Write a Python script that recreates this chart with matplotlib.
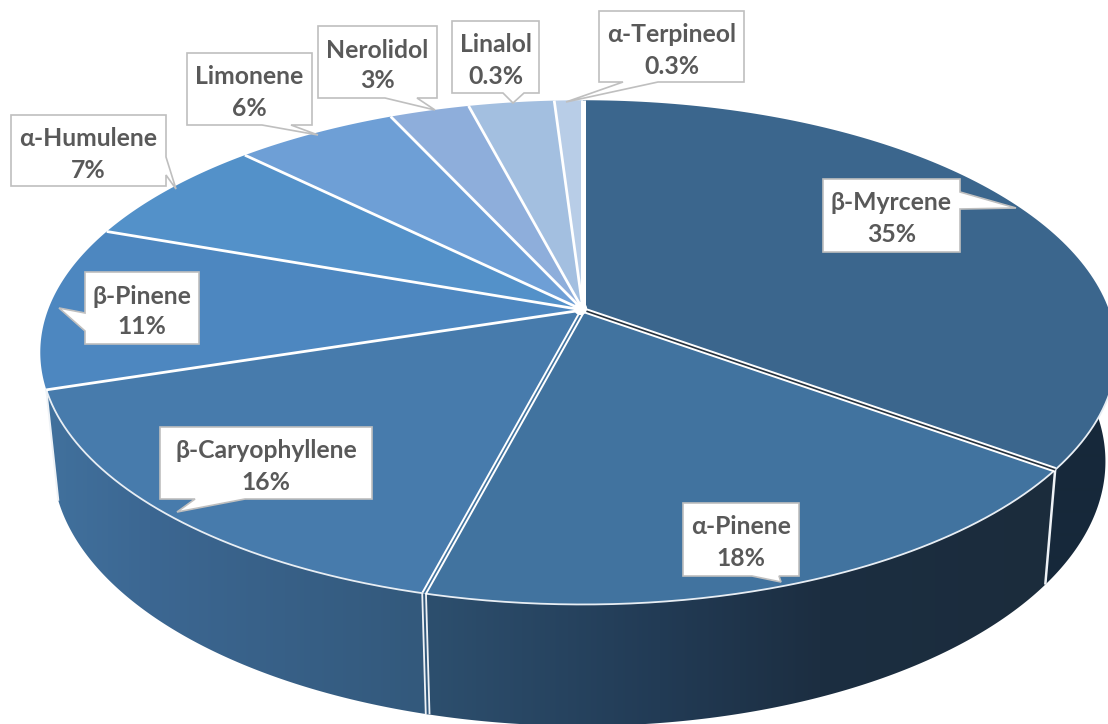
import numpy as np
import matplotlib
matplotlib.use('Agg')
import matplotlib.pyplot as plt
from matplotlib.colors import to_rgb
from matplotlib.patches import Polygon

# ---------- data ----------
names = ['β-Myrcene', 'α-Pinene', 'β-Caryophyllene', 'β-Pinene', 'α-Humulene',
         'Limonene', 'Nerolidol', 'Linalol', 'α-Terpineol']
label_values = ['35%', '18%', '16%', '11%', '7%', '6%', '3%', '0.3%', '0.3%']
# slice sizes as they are drawn in the picture (not the same as the labels)
drawn_shares = [35, 19, 16, 10.5, 7, 5.7, 2.8, 3, 1]
top_colors = ['#3b668d', '#41739f', '#477bac', '#4d87c0', '#5391c9',
              '#6e9fd6', '#8eaedb', '#a3bfe0', '#b8cde7']

# callouts: box x0, y0, x1, y1, side of tail, base a, base b, tip
callouts = [
    (823, 179, 960, 252, 'right', (960, 192), (960, 209), (1016, 208)),
    (683, 503, 799, 576, 'bottom', (779, 576), (752, 576), (781, 582)),
    (160, 427, 372, 499, 'bottom', (245, 499), (195, 499), (177, 512)),
    (85, 272, 199, 344, 'left', (85, 331), (85, 313), (59, 308)),
    (11, 115, 166, 186, 'right', (166, 157), (166, 175), (176, 189)),
    (187, 53, 312, 125, 'bottom', (291, 125), (262, 125), (318, 135)),
    (318, 26, 437, 98, 'bottom', (417, 98), (385, 98), (435, 110)),
    (452, 21, 539, 93, 'bottom', (524, 93), (503, 93), (513, 103)),
    (599, 11, 744, 82, 'bottom', (658, 82), (623, 82), (566, 102)),
]

# wall colours along x, one ramp per slice that shows a wall
wall_ramps = {
    0: ([1040, 1108], ['#17293a', '#16283a']),
    1: ([430, 660, 820, 1050], ['#2d4f6e', '#223b55', '#1c2e41', '#1b2c3c']),
    2: ([45, 150, 420], ['#41719d', '#3c6792', '#33597c']),
}

plt.rcParams['font.family'] = ['Lato', 'Open Sans', 'DejaVu Sans']


# ---------- projection of the tilted disc ----------
def top_face(theta):
    u, v = np.sin(theta), np.cos(theta)
    d = 1 + 0.168 * v
    a = np.where(u < 0, 535, 526)
    return 583 + a * u / d, 310 - 245 * v / d


def bottom_face(theta):
    u, v = np.sin(theta), np.cos(theta)
    d = 1 + 0.168 * v
    a = np.where(u < 0, 523, 515)
    return 583 + a * u / d, 417 - 257 * v / d


fig = plt.figure(figsize=(11.08, 7.24), dpi=100)
ax = fig.add_axes([0, 0, 1, 1])

edges = 2 * np.pi * np.cumsum([0] + drawn_shares) / sum(drawn_shares)

# ---------- side wall ----------
wall_start = 2 * np.pi * 0.25
for i, (xs, cols) in wall_ramps.items():
    th = np.linspace(max(edges[i], wall_start), edges[i + 1], 200)
    tx, ty = top_face(th)
    bx, by = bottom_face(th[::-1])
    shape = Polygon(np.c_[np.r_[tx, bx], np.r_[ty, by]], closed=True,
                    facecolor='none', edgecolor='none', transform=ax.transData)
    ax.add_patch(shape)
    px = np.arange(1108) + 0.5
    rgb = np.array([to_rgb(c) for c in cols])
    grad = np.stack([np.interp(px, xs, rgb[:, k]) for k in range(3)], axis=-1)[None, :, :]
    im = ax.imshow(grad, extent=(0, 1108, 724, 0), aspect='auto', zorder=1,
                   interpolation='bilinear')
    im.set_clip_path(shape)

ax.set_xlim(0, 1108)
ax.set_ylim(724, 0)
ax.axis('off')

# ---------- top of the pie ----------
for i in range(len(drawn_shares)):
    th = np.linspace(edges[i], edges[i + 1], 120)
    x, y = top_face(th)
    ax.fill(np.r_[583, x], np.r_[310, y], color=top_colors[i], lw=0, zorder=2)

# white rim on the front
th = np.linspace(wall_start, edges[3], 400)
ax.plot(*top_face(th), color='#e8eef4', lw=1.3, zorder=3)

# spokes
for i, e in enumerate(edges[:-1]):
    x, y = top_face(e)
    if i == 0:
        lw = 3.6
    elif i in (1, 2):
        lw = 4.0
    else:
        lw = 2.0
    ax.plot([583, x], [310, y], color='white', lw=lw, zorder=4, solid_capstyle='butt')
    if i == 1:
        ax.plot([583, x], [310, y], color='#26323e', lw=1.2, zorder=5, solid_capstyle='butt')
    if i == 2:
        ax.plot([583, x], [310, y], color='#41739f', lw=1.2, zorder=5, solid_capstyle='butt')
ax.scatter([580], [308], s=90, color='white', lw=0, zorder=6)

# wall seams
for i, lw in [(1, 1.8), (2, 4.0), (3, 1.4)]:
    x0, y0 = top_face(edges[i])
    x1, y1 = bottom_face(edges[i])
    ax.plot([x0, x1], [y0, y1], color='#eef2f6', lw=lw, zorder=3, solid_capstyle='butt')
    if i == 2:
        ax.plot([x0, x1], [y0, y1], color='#33597c', lw=1.4, zorder=3, solid_capstyle='butt')

# ---------- callouts ----------
for (x0, y0, x1, y1, side, a, b, tip), name, val in zip(callouts, names, label_values):
    if side == 'right':
        pts = [(x0, y0), (x1, y0), a, tip, b, (x1, y1), (x0, y1)]
    elif side == 'bottom':
        pts = [(x0, y0), (x1, y0), (x1, y1), a, tip, b, (x0, y1)]
    else:
        pts = [(x0, y0), (x1, y0), (x1, y1), (x0, y1), a, tip, b]
    ax.add_patch(Polygon(pts, closed=True, facecolor='white', edgecolor='#bfbfbf',
                         lw=1.2, zorder=7))
    xc = (x0 + x1) / 2
    ax.text(xc, y0 + 24, name, ha='center', va='center', fontsize=17.8,
            fontweight='bold', color='#595959', zorder=8)
    ax.text(xc, y0 + 55, val, ha='center', va='center', fontsize=17.8,
            fontweight='bold', color='#595959', zorder=8)

fig.savefig('out.png', dpi=100, facecolor='white')
